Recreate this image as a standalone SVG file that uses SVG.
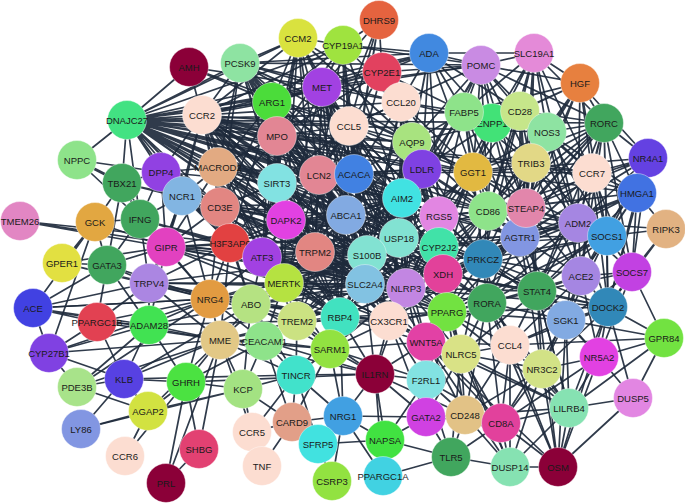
<svg xmlns="http://www.w3.org/2000/svg" width="685" height="503" viewBox="0 0 685 503">
<style>
.edges path{stroke:#1e2a3c;stroke-width:1.7;fill:none;stroke-linecap:round;stroke-opacity:0.92}
.edges path.thick{stroke-width:3}
.node circle{stroke:#ffffff;stroke-width:0.8;stroke-opacity:0.5}
.node text{font-family:"Liberation Sans",Arial,sans-serif;font-size:9.5px;fill:#1a1a1a;text-anchor:middle;dominant-baseline:central}
</style>
<rect width="685" height="503" fill="#ffffff"/>
<g class="edges" id="connectors">
<path d="M189 67L127 120M189 67L202 115M189 67L322 87M189 67L349 126M189 67L272 102"/>
<path d="M127 120L240 63M127 120L298 38M127 120L343 45M127 120L322 87M127 120L272 102M127 120L401 102M127 120L349 126M127 120L277 136M127 120L412 142M127 120L464 112M127 120L481 65M127 120L429 53M127 120L520 111M127 120L547 132M127 120L202 115M127 120L218 167M127 120L319 175M127 120L354 174M127 120L422 169M127 120L473 172M127 120L277 183M127 120L220 207M127 120L286 220M127 120L346 215M127 120L402 198M127 120L439 216M127 120L531 163M127 120L77 160M127 120L122 183M127 120L161 172M127 120L182 196M127 120L140 219M127 120L230 243M127 120L262 257M127 120L315 252M127 120L399 238M127 120L367 255M127 120L488 211M127 120L520 237M127 120L284 283M127 120L365 284M127 120L526 208M127 120L592 173M127 120L604 123M127 120L443 274M127 120L483 259M127 120L439 247M127 120L406 288"/>
<path d="M240 63L202 115M240 63L272 102M240 63L277 136M240 63L322 87M240 63L349 126M240 63L319 175M240 63L354 174M240 63L401 102M240 63L412 142M240 63L277 183M240 63L286 220M240 63L346 215M240 63L315 252M240 63L220 207M240 63L218 167M240 63L481 65M240 63L429 53M240 63L402 198M240 63L399 238M240 63L367 255M240 63L365 284M240 63L473 172"/>
<path d="M298 38L343 45M298 38L240 63M298 38L272 102M298 38L322 87M298 38L349 126M298 38L319 175M298 38L277 136M298 38L346 215M298 38L412 142M298 38L401 102M298 38L277 183M298 38L315 252M298 38L399 238M298 38L286 220M298 38L262 257M298 38L202 115"/>
<path d="M343 45L322 87M343 45L272 102M343 45L349 126M343 45L429 53M343 45L481 65M343 45L401 102M343 45L319 175M343 45L354 174M343 45L346 215M343 45L367 255M343 45L402 198M343 45L277 136M343 45L365 284M343 45L202 115"/>
<path d="M379 20L343 45M379 20L382 72M379 20L349 126M379 20L322 87M379 20L354 174M379 20L319 175M379 20L346 215"/>
<path d="M429 53L481 65M429 53L534 53M429 53L382 72M429 53L401 102M429 53L464 112M429 53L520 111M429 53L412 142M429 53L422 169M429 53L402 198M429 53L492 123M429 53L473 172M429 53L202 115M429 53L272 102M429 53L322 87M429 53L439 216"/>
<path d="M481 65L534 53M481 65L464 112M481 65L520 111M481 65L492 123M481 65L547 132M481 65L580 83M481 65L401 102M481 65L412 142M481 65L422 169M481 65L473 172M481 65L531 163M481 65L488 211M481 65L349 126M481 65L322 87M481 65L382 72M481 65L402 198M481 65L399 238M481 65L604 123M481 65L526 208"/>
<path d="M534 53L580 83M534 53L520 111M534 53L547 132M534 53L604 123M534 53L492 123M534 53L531 163M534 53L592 173M534 53L464 112M534 53L473 172M534 53L488 211M534 53L526 208M534 53L520 237M534 53L578 223"/>
<path d="M580 83L604 123M580 83L547 132M580 83L520 111M580 83L531 163M580 83L592 173M580 83L492 123M580 83L648 158M580 83L488 211M580 83L526 208M580 83L520 237M580 83L578 223M580 83L607 236M580 83L464 112"/>
<path d="M382 72L322 87M382 72L401 102M382 72L349 126M382 72L412 142M382 72L272 102M382 72L277 136M382 72L319 175M382 72L354 174M382 72L422 169M382 72L464 112"/>
<path d="M322 87L272 102M322 87L349 126M322 87L277 136M322 87L319 175M322 87L354 174M322 87L346 215M322 87L277 183M322 87L401 102M322 87L412 142M322 87L286 220M322 87L315 252M322 87L367 255M322 87L202 115"/>
<path d="M272 102L202 115M272 102L277 136M272 102L349 126M272 102L277 183M272 102L319 175M272 102L286 220M272 102L220 207M272 102L218 167M272 102L230 243M272 102L262 257M272 102L315 252M272 102L346 215"/>
<path d="M401 102L349 126M401 102L412 142M401 102L422 169M401 102L464 112M401 102L492 123M401 102L354 174M401 102L402 198M401 102L439 216M401 102L399 238M401 102L473 172M401 102L488 211M401 102L367 255"/>
<path d="M202 115L218 167M202 115L277 136M202 115L349 126M202 115L277 183M202 115L220 207M202 115L182 196M202 115L161 172M202 115L319 175M202 115L286 220M202 115L230 243M202 115L262 257M202 115L315 252M202 115L284 283M202 115L346 215M202 115L166 247M202 115L402 198M202 115L399 238M202 115L367 255M202 115L422 169M202 115L473 172M202 115L488 211M202 115L520 237"/>
<path d="M349 126L277 136M349 126L412 142M349 126L319 175M349 126L354 174M349 126L422 169M349 126L346 215M349 126L402 198M349 126L277 183M349 126L399 238M349 126L367 255M349 126L315 252M349 126L286 220M349 126L365 284M349 126L439 216M349 126L406 288M349 126L389 321M349 126L439 247M349 126L473 172"/>
<path d="M464 112L492 123M464 112L520 111M464 112L473 172M464 112L422 169M464 112L412 142M464 112L531 163M464 112L488 211M464 112L402 198M464 112L439 216M464 112L399 238M464 112L547 132M464 112L526 208M464 112L520 237M464 112L483 259"/>
<path d="M492 123L520 111M492 123L473 172M492 123L531 163M492 123L488 211M492 123L526 208M492 123L439 216M492 123L412 142M492 123L422 169M492 123L520 237M492 123L439 247"/>
<path d="M520 111L547 132M520 111L531 163M520 111L473 172M520 111L592 173M520 111L604 123M520 111L488 211M520 111L526 208M520 111L520 237M520 111L578 223M520 111L483 259M520 111L537 291"/>
<path d="M547 132L531 163M547 132L604 123M547 132L592 173M547 132L473 172M547 132L488 211M547 132L526 208M547 132L520 237M547 132L578 223M547 132L607 236M547 132L581 276M547 132L637 193"/>
<path d="M604 123L592 173M604 123L648 158M604 123L637 193M604 123L531 163M604 123L578 223M604 123L607 236M604 123L526 208M604 123L520 237M604 123L632 272M604 123L581 276M604 123L608 307M604 123L537 291M604 123L488 211M604 123L473 172M604 123L483 259M604 123L443 274"/>
<path class="thick" d="M77 160L122 183"/>
<path d="M77 160L161 172M77 160L140 219"/>
<path d="M277 136L319 175M277 136L277 183M277 136L286 220M277 136L218 167M277 136L220 207M277 136L354 174M277 136L346 215M277 136L315 252M277 136L262 257M277 136L412 142"/>
<path d="M412 142L422 169M412 142L354 174M412 142L402 198M412 142L439 216M412 142L399 238M412 142L473 172M412 142L488 211M412 142L367 255M412 142L439 247M412 142L443 274M412 142L346 215"/>
<path d="M218 167L220 207M218 167L182 196M218 167L161 172M218 167L277 183M218 167L230 243M218 167L286 220M218 167L262 257M218 167L166 247M218 167L319 175M218 167L284 283M218 167L315 252"/>
<path d="M122 183L161 172M122 183L140 219M122 183L95 222M122 183L182 196M122 183L107 265M122 183L166 247M122 183L220 207"/>
<path d="M161 172L182 196M161 172L140 219M161 172L166 247M161 172L220 207M161 172L230 243M161 172L277 183M161 172L315 252M161 172L262 257"/>
<path d="M277 183L319 175M277 183L286 220M277 183L346 215M277 183L315 252M277 183L230 243M277 183L262 257M277 183L284 283M277 183L367 255M277 183L220 207M277 183L354 174M277 183L399 238"/>
<path d="M319 175L354 174M319 175L346 215M319 175L286 220M319 175L315 252M319 175L402 198M319 175L367 255M319 175L399 238M319 175L365 284M319 175L262 257M319 175L406 288M319 175L422 169"/>
<path d="M354 174L422 169M354 174L346 215M354 174L402 198M354 174L399 238M354 174L367 255M354 174L439 216M354 174L315 252M354 174L365 284M354 174L439 247M354 174L443 274M354 174L473 172"/>
<path d="M422 169L473 172M422 169L402 198M422 169L439 216M422 169L488 211M422 169L399 238M422 169L439 247M422 169L483 259M422 169L520 237M422 169L443 274M422 169L367 255"/>
<path d="M473 172L531 163M473 172L488 211M473 172L526 208M473 172L439 216M473 172L520 237M473 172L483 259M473 172L439 247M473 172L443 274M473 172L592 173M473 172L578 223"/>
<path d="M531 163L592 173M531 163L488 211M531 163L526 208M531 163L520 237M531 163L578 223M531 163L607 236M531 163L483 259M531 163L537 291M531 163L487 303M531 163L581 276M531 163L637 193"/>
<path d="M592 173L648 158M592 173L637 193M592 173L578 223M592 173L607 236M592 173L526 208M592 173L520 237M592 173L581 276M592 173L632 272M592 173L537 291M592 173L608 307"/>
<path d="M648 158L637 193M648 158L607 236M648 158L578 223M648 158L632 272M648 158L581 276M648 158L520 237M648 158L526 208M648 158L608 307M648 158L488 211M648 158L483 259M648 158L473 172"/>
<path d="M637 193L607 236M637 193L578 223M637 193L666 229M637 193L632 272M637 193L581 276M637 193L608 307M637 193L537 291M637 193L520 237M637 193L488 211M637 193L473 172M637 193L483 259M637 193L443 274M637 193L439 216"/>
<path d="M666 229L632 272M666 229L607 236M666 229L578 223M666 229L608 307"/>
<path d="M182 196L220 207M182 196L140 219M182 196L166 247M182 196L230 243M182 196L262 257M182 196L286 220M182 196L284 283M182 196L149 283M182 196L210 299M182 196L367 255"/>
<path d="M220 207L230 243M220 207L286 220M220 207L166 247M220 207L262 257M220 207L277 183M220 207L315 252M220 207L284 283M220 207L251 304M220 207L210 299M220 207L346 215M220 207L367 255M220 207L399 238"/>
<path d="M140 219L95 222M140 219L166 247M140 219L107 265M140 219L149 283M140 219L230 243M140 219L210 299M140 219L262 257M140 219L365 284"/>
<path d="M95 222L107 265M95 222L62 263M95 222L166 247M95 222L49 353M95 222L33 308"/>
<path d="M20 221L166 247M20 221L230 243M20 221L262 257"/>
<path d="M402 198L439 216M402 198L399 238M402 198L367 255M402 198L439 247M402 198L443 274M402 198L488 211M402 198L406 288M402 198L365 284M402 198L483 259M402 198L346 215"/>
<path d="M439 216L488 211M439 216L399 238M439 216L439 247M439 216L443 274M439 216L483 259M439 216L520 237M439 216L406 288M439 216L526 208"/>
<path d="M488 211L526 208M488 211L520 237M488 211L483 259M488 211L439 247M488 211L443 274M488 211L578 223M488 211L487 303M488 211L537 291M488 211L447 312"/>
<path d="M526 208L520 237M526 208L578 223M526 208L607 236M526 208L483 259M526 208L537 291M526 208L581 276"/>
<path d="M578 223L607 236M578 223L520 237M578 223L581 276M578 223L632 272M578 223L537 291M578 223L608 307M578 223L566 320M578 223L483 259M578 223L443 274M578 223L439 247M578 223L406 288"/>
<path d="M607 236L632 272M607 236L581 276M607 236L608 307M607 236L520 237M607 236L537 291M607 236L566 320M607 236L488 211M607 236L483 259M607 236L439 216M607 236L443 274M607 236L439 247"/>
<path d="M520 237L483 259M520 237L537 291M520 237L581 276M520 237L487 303M520 237L566 320M520 237L443 274M520 237L439 247M520 237L447 312M520 237L542 369"/>
<path d="M286 220L346 215M286 220L315 252M286 220L262 257M286 220L230 243M286 220L284 283M286 220L367 255M286 220L166 247M286 220L399 238M286 220L365 284M286 220L402 198M286 220L439 216"/>
<path d="M346 215L315 252M346 215L367 255M346 215L399 238M346 215L402 198M346 215L365 284M346 215L406 288M346 215L284 283M346 215L262 257M346 215L389 321M346 215L340 317"/>
<path d="M166 247L230 243M166 247L262 257M166 247L149 283M166 247L107 265M166 247L210 299M166 247L284 283M166 247L149 325M166 247L367 255M166 247L365 284"/>
<path d="M230 243L262 257M230 243L149 283M230 243L210 299M230 243L284 283M230 243L251 304M230 243L315 252M230 243L367 255M230 243L220 340M230 243L365 284M230 243L406 288"/>
<path d="M399 238L367 255M399 238L439 247M399 238L443 274M399 238L406 288M399 238L365 284M399 238L483 259M399 238L340 317M399 238L389 321M399 238L447 312"/>
<path d="M439 247L443 274M439 247L483 259M439 247L406 288M439 247L447 312M439 247L487 303M439 247L537 291M439 247L365 284"/>
<path d="M443 274L483 259M443 274L406 288M443 274L447 312M443 274L487 303M443 274L389 321M443 274L426 342M443 274L537 291"/>
<path d="M483 259L487 303M483 259L537 291M483 259L447 312M483 259L581 276M483 259L566 320M483 259L461 354M483 259L510 345"/>
<path d="M62 263L107 265M62 263L149 283M62 263L210 299M62 263L166 247"/>
<path d="M107 265L149 283M107 265L210 299M107 265L149 325M107 265L33 308M107 265L97 322"/>
<path d="M262 257L315 252M262 257L284 283M262 257L210 299M262 257L251 304M262 257L297 321M262 257L367 255M262 257L365 284M262 257L340 317M262 257L399 238M262 257L443 274"/>
<path d="M315 252L367 255M315 252L284 283M315 252L365 284M315 252L251 304M315 252L297 321M315 252L340 317M315 252L406 288M315 252L389 321M315 252L399 238"/>
<path d="M367 255L365 284M367 255L406 288M367 255L340 317M367 255L389 321M367 255L284 283M367 255L297 321M367 255L447 312M367 255L443 274"/>
<path d="M632 272L581 276M632 272L608 307M632 272L664 338M632 272L599 357M632 272L566 320M632 272L537 291"/>
<path d="M581 276L537 291M581 276L608 307M581 276L566 320M581 276L487 303M581 276L599 357M581 276L542 369M581 276L510 345"/>
<path d="M149 283L210 299M149 283L149 325M149 283L251 304M149 283L284 283M149 283L33 308M149 283L97 322M149 283L220 340M149 283L365 284M149 283L340 317"/>
<path d="M210 299L251 304M210 299L284 283M210 299L149 325M210 299L220 340M210 299L297 321M210 299L264 341M210 299L33 308M210 299L186 382M210 299L365 284M210 299L340 317"/>
<path d="M284 283L251 304M284 283L297 321M284 283L365 284M284 283L340 317M284 283L264 341M284 283L220 340M284 283L389 321M284 283L330 349M284 283L406 288M284 283L447 312"/>
<path d="M365 284L406 288M365 284L340 317M365 284L389 321M365 284L297 321M365 284L447 312M365 284L330 349M365 284L426 342M365 284L375 374"/>
<path d="M406 288L389 321M406 288L447 312M406 288L487 303M406 288L426 342M406 288L461 354M406 288L340 317M406 288L375 374M406 288L426 380"/>
<path d="M537 291L487 303M537 291L566 320M537 291L608 307M537 291L447 312M537 291L542 369M537 291L510 345M537 291L461 354M537 291L599 357M537 291L569 408"/>
<path d="M487 303L447 312M487 303L566 320M487 303L461 354M487 303L510 345M487 303L542 369M487 303L426 342M487 303L465 415M487 303L501 423"/>
<path d="M608 307L566 320M608 307L599 357M608 307L664 338M608 307L569 408M608 307L542 369M608 307L633 398M608 307L510 345M608 307L483 259M608 307L443 274M608 307L406 288M608 307L447 312"/>
<path d="M33 308L97 322M33 308L149 325M33 308L210 299M33 308L220 340M33 308L49 353"/>
<path d="M97 322L149 325M97 322L210 299M97 322L220 340M97 322L49 353M97 322L124 379"/>
<path d="M149 325L220 340M149 325L251 304M149 325L124 379M149 325L77 387M149 325L49 353M149 325L186 382M149 325L297 321"/>
<path d="M251 304L297 321M251 304L220 340M251 304L264 341M251 304L340 317M251 304L330 349M251 304L296 375M251 304L243 389M251 304L365 284M251 304L389 321"/>
<path d="M297 321L340 317M297 321L264 341M297 321L330 349M297 321L296 375M297 321L389 321M297 321L375 374M297 321L220 340"/>
<path d="M340 317L389 321M340 317L330 349M340 317L375 374M340 317L296 375M340 317L426 342M340 317L447 312M340 317L343 416"/>
<path d="M389 321L447 312M389 321L426 342M389 321L375 374M389 321L426 380M389 321L461 354M389 321L330 349M389 321L426 417"/>
<path d="M447 312L426 342M447 312L461 354M447 312L510 345M447 312L426 380M447 312L465 415M447 312L426 417M447 312L566 320"/>
<path d="M566 320L542 369M566 320L510 345M566 320L599 357M566 320L569 408M566 320L664 338M566 320L501 423"/>
<path d="M664 338L599 357M664 338L569 408M664 338L633 398M664 338L510 345"/>
<path d="M49 353L124 379M49 353L220 340M49 353L210 299M49 353L77 387"/>
<path d="M220 340L264 341M220 340L186 382M220 340L243 389M220 340L148 411M220 340L199 449M220 340L166 483M220 340L124 379M220 340L296 375M220 340L252 432M220 340L340 317M220 340L330 349M220 340L375 374"/>
<path d="M264 341L330 349M264 341L296 375M264 341L243 389M264 341L292 422M264 341L186 382M264 341L375 374"/>
<path d="M330 349L375 374M330 349L296 375M330 349L426 342M330 349L343 416M330 349L292 422M330 349L426 380"/>
<path d="M426 342L461 354M426 342L426 380M426 342L375 374M426 342L426 417M426 342L465 415M426 342L510 345M426 342L501 423"/>
<path d="M461 354L510 345M461 354L426 380M461 354L465 415M461 354L501 423M461 354L542 369M461 354L426 417M461 354L451 457M461 354L510 467"/>
<path d="M510 345L542 369M510 345L501 423M510 345L465 415M510 345L569 408M510 345L510 467M510 345L558 467"/>
<path d="M542 369L599 357M542 369L569 408M542 369L501 423M542 369L510 467M542 369L558 467M542 369L465 415"/>
<path d="M599 357L569 408M599 357L633 398M599 357L558 467M599 357L501 423"/>
<path d="M77 387L124 379M77 387L148 411M77 387L220 340M77 387L210 299"/>
<path d="M124 379L148 411M124 379L186 382M124 379L81 429M124 379L251 304M124 379L296 375"/>
<path d="M186 382L148 411M186 382L243 389M186 382L199 449M186 382L166 483M186 382L125 456M186 382L375 374"/>
<path d="M243 389L148 411M243 389L296 375M243 389L292 422M243 389L81 429M243 389L252 432"/>
<path d="M296 375L375 374M296 375L292 422M296 375L343 416M296 375L318 444M296 375L252 432"/>
<path d="M375 374L426 380M375 374L343 416M375 374L385 440M375 374L426 417M375 374L465 415M375 374L383 476"/>
<path d="M426 380L426 417M426 380L465 415M426 380L385 440M426 380L501 423M426 380L451 457"/>
<path d="M148 411L81 429M148 411L125 456"/>
<path d="M343 416L385 440M343 416L318 444M343 416L292 422M343 416L426 417M343 416L383 476M343 416L332 481"/>
<path d="M292 422L318 444M292 422L252 432M292 422L262 466"/>
<path d="M426 417L465 415M426 417L385 440M426 417L451 457M426 417L501 423"/>
<path d="M465 415L501 423M465 415L451 457M465 415L510 467M465 415L569 408"/>
<path d="M501 423L569 408M501 423L510 467M501 423L558 467M501 423L451 457"/>
<path d="M569 408L633 398M569 408L558 467M569 408L510 467M569 408L461 354M569 408L487 303M569 408L537 291M569 408L447 312M569 408L426 342"/>
<path d="M633 398L558 467M252 432L262 466M199 449L166 483M318 444L332 481M318 444L385 440M385 440L383 476M385 440L451 457M451 457L383 476M451 457L510 467"/>
<path d="M510 467L558 467M510 467L426 342M510 467L447 312M558 467L566 320M558 467L608 307M558 467L487 303M558 467L537 291M558 467L426 342"/>
<path d="M277 136L367 255M277 136L399 238M277 136L365 284M277 136L284 283M277 136L406 288M319 175L389 321M319 175L340 317M319 175L284 283M319 175L439 247M277 183L365 284M277 183L406 288M277 183L340 317M277 183L402 198M286 220L389 321M286 220L340 317M286 220L406 288M286 220L443 274M354 174L406 288M354 174L389 321M354 174L284 283M354 174L286 220"/>
<path d="M346 215L443 274M346 215L439 247M346 215L447 312M346 215L297 321M346 215L230 243M315 252L402 198M315 252L443 274M315 252L439 247M315 252L447 312M262 257L402 198M262 257L406 288M262 257L389 321M262 257L447 312M284 283L399 238M284 283L402 198M284 283L443 274M284 283L439 247"/>
<path d="M367 255L439 247M367 255L439 216M367 255L483 259M367 255L426 342M365 284L443 274M365 284L439 247M365 284L439 216M399 238L297 321M402 198L389 321M402 198L340 317M402 198L447 312M389 321L439 247M389 321L439 216M389 321L443 274M340 317L443 274"/>
<path d="M230 243L399 238M230 243L402 198M230 243L340 317M230 243L389 321M220 207L365 284M220 207L406 288M220 207L402 198M220 207L340 317M218 167L367 255M218 167L399 238M218 167L365 284M218 167L402 198M218 167L346 215"/>
<path d="M202 115L365 284M202 115L406 288M202 115L340 317M202 115L389 321M202 115L443 274M272 102L367 255M272 102L365 284M272 102L399 238M272 102L402 198M272 102L406 288M322 87L365 284M322 87L399 238M322 87L402 198M322 87L406 288M322 87L340 317M349 126L340 317M349 126L284 283M349 126L443 274M349 126L483 259"/>
<path d="M182 196L365 284M182 196L399 238M182 196L340 317M166 247L340 317M166 247L399 238M166 247L406 288M149 283L367 255M149 283L406 288M210 299L367 255M210 299L406 288M210 299L389 321M251 304L367 255M251 304L406 288M251 304L399 238M297 321L406 288M297 321L402 198"/>
<path d="M422 169L365 284M422 169L406 288M422 169L340 317M422 169L389 321M412 142L365 284M412 142L406 288M412 142L389 321M412 142L483 259M401 102L365 284M401 102L406 288M401 102L443 274M473 172L406 288M473 172L399 238M473 172L367 255M488 211L399 238M488 211L406 288M488 211L389 321M439 216L340 317"/>
<path d="M483 259L406 288M483 259L389 321M483 259L399 238M520 237L406 288M520 237L399 238M520 237L389 321M578 223L447 312M578 223L487 303M607 236L447 312M607 236L487 303M537 291L443 274M537 291L439 247M537 291L406 288M487 303L406 288M487 303L389 321M487 303L399 238M426 342L399 238M461 354L443 274M461 354L389 321M330 349L406 288M330 349L367 255"/>
</g>
<g id="nodes">
<g id="n-AMH" class="node"><circle cx="189" cy="67" r="19.5" fill="#8b0038"/><text x="189" y="67">AMH</text></g>
<g id="n-PCSK9" class="node"><circle cx="240" cy="63" r="19.5" fill="#8ee3a2"/><text x="240" y="63">PCSK9</text></g>
<g id="n-CCM2" class="node"><circle cx="298" cy="38" r="19.5" fill="#d9e23f"/><text x="298" y="38">CCM2</text></g>
<g id="n-CYP19A1" class="node"><circle cx="343" cy="45" r="19.5" fill="#9fe33f"/><text x="343" y="45">CYP19A1</text></g>
<g id="n-DHRS9" class="node"><circle cx="379" cy="20" r="19.5" fill="#e5633f"/><text x="379" y="20">DHRS9</text></g>
<g id="n-ADA" class="node"><circle cx="429" cy="53" r="19.5" fill="#4189e0"/><text x="429" y="53">ADA</text></g>
<g id="n-POMC" class="node"><circle cx="481" cy="65" r="19.5" fill="#c98be3"/><text x="481" y="65">POMC</text></g>
<g id="n-SLC19A1" class="node"><circle cx="534" cy="53" r="19.5" fill="#e48ad8"/><text x="534" y="53">SLC19A1</text></g>
<g id="n-HGF" class="node"><circle cx="580" cy="83" r="19.5" fill="#e7803f"/><text x="580" y="83">HGF</text></g>
<g id="n-CYP2E1" class="node"><circle cx="382" cy="72" r="19.5" fill="#e2415f"/><text x="382" y="72">CYP2E1</text></g>
<g id="n-MET" class="node"><circle cx="322" cy="87" r="19.5" fill="#a241e2"/><text x="322" y="87">MET</text></g>
<g id="n-ARG1" class="node"><circle cx="272" cy="102" r="19.5" fill="#4bdc3a"/><text x="272" y="102">ARG1</text></g>
<g id="n-CCL20" class="node"><circle cx="401" cy="102" r="19.5" fill="#fcddd1"/><text x="401" y="102">CCL20</text></g>
<g id="n-DNAJC27" class="node"><circle cx="127" cy="120" r="19.5" fill="#42e282"/><text x="127" y="120">DNAJC27</text></g>
<g id="n-CCR2" class="node"><circle cx="202" cy="115" r="19.5" fill="#fcddd1"/><text x="202" y="115">CCR2</text></g>
<g id="n-CCL5" class="node"><circle cx="349" cy="126" r="19.5" fill="#fcddd1"/><text x="349" y="126">CCL5</text></g>
<g id="n-ENPP1" class="node"><circle cx="492" cy="123" r="19.5" fill="#42e277"/><text x="492" y="123">ENPP1</text></g>
<g id="n-FABP5" class="node"><circle cx="464" cy="112" r="19.5" fill="#8ee38a"/><text x="464" y="112">FABP5</text></g>
<g id="n-CD28" class="node"><circle cx="520" cy="111" r="19.5" fill="#c6e68a"/><text x="520" y="111">CD28</text></g>
<g id="n-NOS3" class="node"><circle cx="547" cy="132" r="19.5" fill="#8ee3a2"/><text x="547" y="132">NOS3</text></g>
<g id="n-RORC" class="node"><circle cx="604" cy="123" r="19.5" fill="#41a65e"/><text x="604" y="123">RORC</text></g>
<g id="n-NPPC" class="node"><circle cx="77" cy="160" r="19.5" fill="#8ee38a"/><text x="77" y="160">NPPC</text></g>
<g id="n-MPO" class="node"><circle cx="277" cy="136" r="19.5" fill="#e28694"/><text x="277" y="136">MPO</text></g>
<g id="n-AQP9" class="node"><circle cx="412" cy="142" r="19.5" fill="#a8e37f"/><text x="412" y="142">AQP9</text></g>
<g id="n-MACROD2" class="node"><circle cx="218" cy="167" r="19.5" fill="#e2aa82"/><text x="218" y="167">MACROD2</text></g>
<g id="n-TBX21" class="node"><circle cx="122" cy="183" r="19.5" fill="#41a65e"/><text x="122" y="183">TBX21</text></g>
<g id="n-DPP4" class="node"><circle cx="161" cy="172" r="19.5" fill="#9141e2"/><text x="161" y="172">DPP4</text></g>
<g id="n-SIRT3" class="node"><circle cx="277" cy="183" r="19.5" fill="#82e2e2"/><text x="277" y="183">SIRT3</text></g>
<g id="n-LCN2" class="node"><circle cx="319" cy="175" r="19.5" fill="#e28694"/><text x="319" y="175">LCN2</text></g>
<g id="n-ACACA" class="node"><circle cx="354" cy="174" r="19.5" fill="#4181e2"/><text x="354" y="174">ACACA</text></g>
<g id="n-LDLR" class="node"><circle cx="422" cy="169" r="19.5" fill="#7f41e2"/><text x="422" y="169">LDLR</text></g>
<g id="n-GGT1" class="node"><circle cx="473" cy="172" r="19.5" fill="#e2b941"/><text x="473" y="172">GGT1</text></g>
<g id="n-TRIB3" class="node"><circle cx="531" cy="163" r="19.5" fill="#e2d886"/><text x="531" y="163">TRIB3</text></g>
<g id="n-CCR7" class="node"><circle cx="592" cy="173" r="19.5" fill="#fcddd1"/><text x="592" y="173">CCR7</text></g>
<g id="n-NR4A1" class="node"><circle cx="648" cy="158" r="19.5" fill="#6441e2"/><text x="648" y="158">NR4A1</text></g>
<g id="n-HMGA1" class="node"><circle cx="637" cy="193" r="19.5" fill="#4172e2"/><text x="637" y="193">HMGA1</text></g>
<g id="n-NCR1" class="node"><circle cx="182" cy="196" r="19.5" fill="#82b5e2"/><text x="182" y="196">NCR1</text></g>
<g id="n-CD3E" class="node"><circle cx="220" cy="207" r="19.5" fill="#e28682"/><text x="220" y="207">CD3E</text></g>
<g id="n-IFNG" class="node"><circle cx="140" cy="219" r="19.5" fill="#41a65e"/><text x="140" y="219">IFNG</text></g>
<g id="n-GCK" class="node"><circle cx="95" cy="222" r="19.5" fill="#e2a741"/><text x="95" y="222">GCK</text></g>
<g id="n-TMEM26" class="node"><circle cx="20" cy="221" r="19.5" fill="#e286c3"/><text x="20" y="221">TMEM26</text></g>
<g id="n-AIM2" class="node"><circle cx="402" cy="198" r="19.5" fill="#41e2e2"/><text x="402" y="198">AIM2</text></g>
<g id="n-RGS5" class="node"><circle cx="439" cy="216" r="19.5" fill="#e286e2"/><text x="439" y="216">RGS5</text></g>
<g id="n-CD86" class="node"><circle cx="488" cy="211" r="19.5" fill="#8ee38a"/><text x="488" y="211">CD86</text></g>
<g id="n-AGTR1" class="node"><circle cx="520" cy="237" r="19.5" fill="#8296e2"/><text x="520" y="237">AGTR1</text></g>
<g id="n-STEAP4" class="node"><circle cx="526" cy="208" r="19.5" fill="#e286ab"/><text x="526" y="208">STEAP4</text></g>
<g id="n-ADM2" class="node"><circle cx="578" cy="223" r="19.5" fill="#a586e2"/><text x="578" y="223">ADM2</text></g>
<g id="n-SOCS1" class="node"><circle cx="607" cy="236" r="19.5" fill="#41a0e2"/><text x="607" y="236">SOCS1</text></g>
<g id="n-RIPK3" class="node"><circle cx="666" cy="229" r="19.5" fill="#e2b282"/><text x="666" y="229">RIPK3</text></g>
<g id="n-DAPK2" class="node"><circle cx="286" cy="220" r="19.5" fill="#e241e2"/><text x="286" y="220">DAPK2</text></g>
<g id="n-ABCA1" class="node"><circle cx="346" cy="215" r="19.5" fill="#82aae2"/><text x="346" y="215">ABCA1</text></g>
<g id="n-GIPR" class="node"><circle cx="166" cy="247" r="19.5" fill="#e241c0"/><text x="166" y="247">GIPR</text></g>
<g id="n-H3F3AP6" class="node"><circle cx="230" cy="243" r="19.5" fill="#e24141"/><text x="230" y="243">H3F3AP6</text></g>
<g id="n-USP18" class="node"><circle cx="399" cy="238" r="19.5" fill="#82e2d2"/><text x="399" y="238">USP18</text></g>
<g id="n-CYP2J2" class="node"><circle cx="439" cy="247" r="19.5" fill="#41e2a8"/><text x="439" y="247">CYP2J2</text></g>
<g id="n-XDH" class="node"><circle cx="443" cy="274" r="19.5" fill="#e2419a"/><text x="443" y="274">XDH</text></g>
<g id="n-PRKCZ" class="node"><circle cx="483" cy="259" r="19.5" fill="#3188b8"/><text x="483" y="259">PRKCZ</text></g>
<g id="n-GPER1" class="node"><circle cx="62" cy="263" r="19.5" fill="#e2e041"/><text x="62" y="263">GPER1</text></g>
<g id="n-GATA3" class="node"><circle cx="107" cy="265" r="19.5" fill="#41a65e"/><text x="107" y="265">GATA3</text></g>
<g id="n-ATF3" class="node"><circle cx="262" cy="257" r="19.5" fill="#a241e2"/><text x="262" y="257">ATF3</text></g>
<g id="n-TRPM2" class="node"><circle cx="315" cy="252" r="19.5" fill="#e28682"/><text x="315" y="252">TRPM2</text></g>
<g id="n-S100B" class="node"><circle cx="367" cy="255" r="19.5" fill="#82e2d2"/><text x="367" y="255">S100B</text></g>
<g id="n-SOCS7" class="node"><circle cx="632" cy="272" r="19.5" fill="#c241e2"/><text x="632" y="272">SOCS7</text></g>
<g id="n-ACE2" class="node"><circle cx="581" cy="276" r="19.5" fill="#a586e2"/><text x="581" y="276">ACE2</text></g>
<g id="n-TRPV4" class="node"><circle cx="149" cy="283" r="19.5" fill="#ab86e2"/><text x="149" y="283">TRPV4</text></g>
<g id="n-NRG4" class="node"><circle cx="210" cy="299" r="19.5" fill="#e29b41"/><text x="210" y="299">NRG4</text></g>
<g id="n-MERTK" class="node"><circle cx="284" cy="283" r="19.5" fill="#b5e241"/><text x="284" y="283">MERTK</text></g>
<g id="n-SLC2A4" class="node"><circle cx="365" cy="284" r="19.5" fill="#82c2e2"/><text x="365" y="284">SLC2A4</text></g>
<g id="n-NLRP3" class="node"><circle cx="406" cy="288" r="19.5" fill="#c286e2"/><text x="406" y="288">NLRP3</text></g>
<g id="n-STAT4" class="node"><circle cx="537" cy="291" r="19.5" fill="#41a65e"/><text x="537" y="291">STAT4</text></g>
<g id="n-RORA" class="node"><circle cx="487" cy="303" r="19.5" fill="#41a65e"/><text x="487" y="303">RORA</text></g>
<g id="n-DOCK2" class="node"><circle cx="608" cy="307" r="19.5" fill="#3188b8"/><text x="608" y="307">DOCK2</text></g>
<g id="n-ACE" class="node"><circle cx="33" cy="308" r="19.5" fill="#4141e2"/><text x="33" y="308">ACE</text></g>
<g id="n-PPARGC1B" class="node"><circle cx="97" cy="322" r="19.5" fill="#e24152"/><text x="97" y="322">PPARGC1B</text></g>
<g id="n-ADAM28" class="node"><circle cx="149" cy="325" r="19.5" fill="#41e252"/><text x="149" y="325">ADAM28</text></g>
<g id="n-ABO" class="node"><circle cx="251" cy="304" r="19.5" fill="#b5e282"/><text x="251" y="304">ABO</text></g>
<g id="n-TREM2" class="node"><circle cx="297" cy="321" r="19.5" fill="#cbe282"/><text x="297" y="321">TREM2</text></g>
<g id="n-RBP4" class="node"><circle cx="340" cy="317" r="19.5" fill="#41e2c0"/><text x="340" y="317">RBP4</text></g>
<g id="n-CX3CR1" class="node"><circle cx="389" cy="321" r="19.5" fill="#fcddd1"/><text x="389" y="321">CX3CR1</text></g>
<g id="n-PPARG" class="node"><circle cx="447" cy="312" r="19.5" fill="#72e241"/><text x="447" y="312">PPARG</text></g>
<g id="n-SGK1" class="node"><circle cx="566" cy="320" r="19.5" fill="#82aae2"/><text x="566" y="320">SGK1</text></g>
<g id="n-GPR84" class="node"><circle cx="664" cy="338" r="19.5" fill="#72e241"/><text x="664" y="338">GPR84</text></g>
<g id="n-CYP27B1" class="node"><circle cx="49" cy="353" r="19.5" fill="#8041e2"/><text x="49" y="353">CYP27B1</text></g>
<g id="n-MME" class="node"><circle cx="220" cy="340" r="19.5" fill="#e2c886"/><text x="220" y="340">MME</text></g>
<g id="n-CEACAM1" class="node"><circle cx="264" cy="341" r="19.5" fill="#8ee38a"/><text x="264" y="341">CEACAM1</text></g>
<g id="n-SARM1" class="node"><circle cx="330" cy="349" r="19.5" fill="#92e241"/><text x="330" y="349">SARM1</text></g>
<g id="n-WNT5A" class="node"><circle cx="426" cy="342" r="19.5" fill="#e241a5"/><text x="426" y="342">WNT5A</text></g>
<g id="n-NLRC5" class="node"><circle cx="461" cy="354" r="19.5" fill="#d9e286"/><text x="461" y="354">NLRC5</text></g>
<g id="n-CCL4" class="node"><circle cx="510" cy="345" r="19.5" fill="#fcddd1"/><text x="510" y="345">CCL4</text></g>
<g id="n-NR3C2" class="node"><circle cx="542" cy="369" r="19.5" fill="#d2e286"/><text x="542" y="369">NR3C2</text></g>
<g id="n-NR5A2" class="node"><circle cx="599" cy="357" r="19.5" fill="#e241e2"/><text x="599" y="357">NR5A2</text></g>
<g id="n-PDE3B" class="node"><circle cx="77" cy="387" r="19.5" fill="#a8e38a"/><text x="77" y="387">PDE3B</text></g>
<g id="n-KLB" class="node"><circle cx="124" cy="379" r="19.5" fill="#5741e2"/><text x="124" y="379">KLB</text></g>
<g id="n-GHRH" class="node"><circle cx="186" cy="382" r="19.5" fill="#4be241"/><text x="186" y="382">GHRH</text></g>
<g id="n-KCP" class="node"><circle cx="243" cy="389" r="19.5" fill="#a3e282"/><text x="243" y="389">KCP</text></g>
<g id="n-TINCR" class="node"><circle cx="296" cy="375" r="19.5" fill="#41e2cb"/><text x="296" y="375">TINCR</text></g>
<g id="n-IL1RN" class="node"><circle cx="375" cy="374" r="19.5" fill="#8b0038"/><text x="375" y="374">IL1RN</text></g>
<g id="n-F2RL1" class="node"><circle cx="426" cy="380" r="19.5" fill="#82e2e2"/><text x="426" y="380">F2RL1</text></g>
<g id="n-AGAP2" class="node"><circle cx="148" cy="411" r="19.5" fill="#d2e241"/><text x="148" y="411">AGAP2</text></g>
<g id="n-LY86" class="node"><circle cx="81" cy="429" r="19.5" fill="#8296e2"/><text x="81" y="429">LY86</text></g>
<g id="n-NRG1" class="node"><circle cx="343" cy="416" r="19.5" fill="#41a0e2"/><text x="343" y="416">NRG1</text></g>
<g id="n-CARD9" class="node"><circle cx="292" cy="422" r="19.5" fill="#e29f88"/><text x="292" y="422">CARD9</text></g>
<g id="n-GATA2" class="node"><circle cx="426" cy="417" r="19.5" fill="#d041e2"/><text x="426" y="417">GATA2</text></g>
<g id="n-CD248" class="node"><circle cx="465" cy="415" r="19.5" fill="#e2c286"/><text x="465" y="415">CD248</text></g>
<g id="n-CD8A" class="node"><circle cx="501" cy="423" r="19.5" fill="#e2419c"/><text x="501" y="423">CD8A</text></g>
<g id="n-LILRB4" class="node"><circle cx="569" cy="408" r="19.5" fill="#86e2b2"/><text x="569" y="408">LILRB4</text></g>
<g id="n-DUSP5" class="node"><circle cx="633" cy="398" r="19.5" fill="#e286e2"/><text x="633" y="398">DUSP5</text></g>
<g id="n-CCR6" class="node"><circle cx="125" cy="456" r="19.5" fill="#fcddd1"/><text x="125" y="456">CCR6</text></g>
<g id="n-CCR5" class="node"><circle cx="252" cy="432" r="19.5" fill="#fcddd1"/><text x="252" y="432">CCR5</text></g>
<g id="n-SHBG" class="node"><circle cx="199" cy="449" r="19.5" fill="#e24172"/><text x="199" y="449">SHBG</text></g>
<g id="n-SFRP5" class="node"><circle cx="318" cy="444" r="19.5" fill="#41e2e0"/><text x="318" y="444">SFRP5</text></g>
<g id="n-NAPSA" class="node"><circle cx="385" cy="440" r="19.5" fill="#41e241"/><text x="385" y="440">NAPSA</text></g>
<g id="n-TLR5" class="node"><circle cx="451" cy="457" r="19.5" fill="#41a65e"/><text x="451" y="457">TLR5</text></g>
<g id="n-TNF" class="node"><circle cx="262" cy="466" r="19.5" fill="#fcddd1"/><text x="262" y="466">TNF</text></g>
<g id="n-PRL" class="node"><circle cx="166" cy="483" r="19.5" fill="#8b0038"/><text x="166" y="483">PRL</text></g>
<g id="n-CSRP3" class="node"><circle cx="332" cy="481" r="19.5" fill="#92e241"/><text x="332" y="481">CSRP3</text></g>
<g id="n-PPARGC1A" class="node"><circle cx="383" cy="476" r="19.5" fill="#41d2e2"/><text x="383" y="476">PPARGC1A</text></g>
<g id="n-DUSP14" class="node"><circle cx="510" cy="467" r="19.5" fill="#86e2b2"/><text x="510" y="467">DUSP14</text></g>
<g id="n-OSM" class="node"><circle cx="558" cy="467" r="19.5" fill="#8b0038"/><text x="558" y="467">OSM</text></g>
</g>
</svg>
